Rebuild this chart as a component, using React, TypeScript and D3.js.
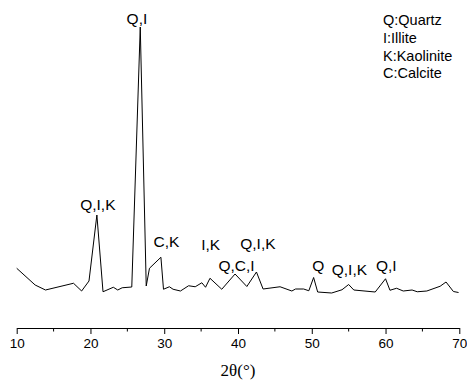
import { useEffect, useRef } from "react";
import * as d3 from "d3";

// 2θ (degrees) and intensity (a.u.)
const twoTheta = [
  10.0, 12.5, 13.9, 17.7, 18.8, 19.8, 20.87, 21.7, 23.1, 23.7, 24.3, 25.6, 26.75, 27.56, 28.0,
  29.55, 29.9, 30.7, 31.2, 32.2, 33.3, 34.2, 35.1, 35.6, 36.2, 37.8, 39.6, 41.2, 42.5, 43.4,
  45.7, 47.3, 47.8, 48.9, 49.6, 50.25, 50.8, 52.7, 54.1, 55.0, 55.7, 58.6, 60.0, 60.6, 61.5,
  62.4, 63.6, 64.3, 65.6, 67.4, 68.2, 69.2, 69.9,
];
const intensity = [
  127, 60, 40, 67, 36, 76, 340, 33, 51, 40, 49, 52, 1092, 56, 127,
  171, 43, 53, 43, 36, 57, 53, 69, 51, 87, 43, 104, 54, 112, 44,
  53, 36, 44, 44, 37, 90, 32, 28, 41, 62, 40, 32, 85, 39, 47,
  36, 40, 33, 36, 55, 72, 34, 30,
];

// peak labels: text, 2θ of label centre, intensity level of label baseline
const peakLabels = ["Q,I", "Q,I,K", "C,K", "I,K", "Q,C,I", "Q,I,K", "Q", "Q,I,K", "Q,I"];
const peakLabelX = [26.3, 21.0, 30.3, 36.3, 39.8, 42.7, 50.9, 55.1, 60.1];
const peakLabelY = [1104, 360, 212, 200, 116, 204, 116, 100, 116];

const legendItems = ["Q:Quartz", "I:Illite", "K:Kaolinite", "C:Calcite"];
const xTicks = [10, 20, 30, 40, 50, 60, 70];
const xMinorTicks = [15, 25, 35, 45, 55, 65];

const W = 467;
const H = 383;

export default function App() {
  const svgRef = useRef<SVGSVGElement>(null);

  useEffect(() => {
    if (!svgRef.current) return;
    const svg = d3.select(svgRef.current);
    svg.selectAll("*").remove();

    const font = "'Liberation Sans', Arial, sans-serif";

    const x = d3.scaleLinear().domain([10, 70]).range([16.7, 459.3]);
    const y = d3.scaleLinear().domain([0, 1200]).range([300, 0]);
    const axisY = 328;

    svg.append("rect").attr("width", W).attr("height", H).attr("fill", "#fff");

    // pattern
    const pts = twoTheta.map((t, i) => [t, intensity[i]] as [number, number]);
    const line = d3
      .line<[number, number]>()
      .x((d) => x(d[0]))
      .y((d) => y(d[1]));
    svg
      .append("path")
      .attr("d", line(pts) || "")
      .attr("fill", "none")
      .attr("stroke", "#000")
      .attr("stroke-width", 1)
      .attr("stroke-linejoin", "miter");

    // peak labels
    svg
      .append("g")
      .selectAll("text")
      .data(peakLabels)
      .enter()
      .append("text")
      .attr("x", (_, i) => x(peakLabelX[i]))
      .attr("y", (_, i) => y(peakLabelY[i]))
      .attr("text-anchor", "middle")
      .attr("font-family", font)
      .attr("font-size", "15.5px")
      .attr("fill", "#000")
      .text((d) => d);

    // legend
    svg
      .append("g")
      .selectAll("text")
      .data(legendItems)
      .enter()
      .append("text")
      .attr("x", 383)
      .attr("y", (_, i) => 25 + i * 17.8)
      .attr("font-family", font)
      .attr("font-size", "14.5px")
      .attr("fill", "#000")
      .text((d) => d);

    // x axis
    const ax = svg.append("g").attr("transform", `translate(0,${axisY})`);
    ax.call(
      d3
        .axisBottom(x)
        .tickValues(xTicks)
        .tickSize(6)
        .tickSizeOuter(0)
        .tickPadding(4)
        .tickFormat(d3.format("d"))
    );
    ax.select(".domain").attr("stroke", "#000").attr("stroke-width", 1);
    ax.selectAll(".tick line").attr("stroke", "#000");
    ax.selectAll(".tick text")
      .attr("font-family", font)
      .attr("font-size", "13.5px")
      .attr("fill", "#000");
    ax.append("g")
      .selectAll("line")
      .data(xMinorTicks)
      .enter()
      .append("line")
      .attr("x1", (d) => x(d))
      .attr("x2", (d) => x(d))
      .attr("y1", 0)
      .attr("y2", 3.5)
      .attr("stroke", "#000");

    svg
      .append("text")
      .attr("x", x(40))
      .attr("y", 376)
      .attr("text-anchor", "middle")
      .attr("font-family", "'Liberation Serif', 'Times New Roman', serif")
      .attr("font-size", "17px")
      .attr("fill", "#000")
      .text("2θ(°)");
  }, []);

  return (
    <div style={{ position: "fixed", left: 0, top: 0, width: W, height: H, overflow: "hidden" }}>
      <svg ref={svgRef} width={W} height={H} style={{ display: "block" }} />
    </div>
  );
}
